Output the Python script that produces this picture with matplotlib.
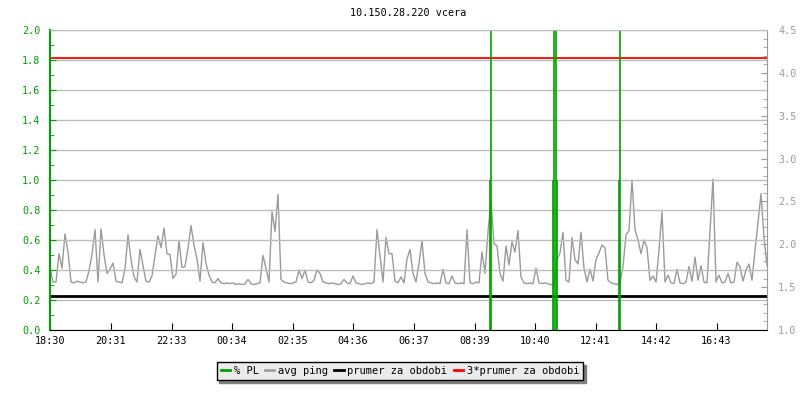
import matplotlib
matplotlib.use("Agg")
import matplotlib.pyplot as plt
from matplotlib.ticker import MultipleLocator

title = "10.150.28.220 vcera"

# time axis labels (minutes counted from 18:30)
xtick_labels = ["18:30", "20:31", "22:33", "00:34", "02:35", "04:36",
                "06:37", "08:39", "10:40", "12:41", "14:42", "16:43"]
x_end = 1434  # minutes after 18:30 shown at the right edge
step = 6      # minutes between ping samples

# avg ping [ms], one value every 6 minutes from 18:30
ping = [
    1.72, 1.56, 1.56, 1.89, 1.72, 2.12, 1.91, 1.56, 1.55, 1.57, 1.56, 1.55, 1.56, 1.69, 1.88, 2.17, 1.56, 2.18, 1.88, 1.66,
    1.71, 1.78, 1.57, 1.56, 1.55, 1.71, 2.11, 1.82, 1.62, 1.56, 1.94, 1.75, 1.57, 1.56, 1.63, 1.87, 2.10, 1.96, 2.19, 1.89,
    1.88, 1.60, 1.65, 2.04, 1.73, 1.74, 1.95, 2.22, 1.99, 1.83, 1.57, 2.02, 1.78, 1.64, 1.56, 1.55, 1.60, 1.55, 1.54, 1.55,
    1.54, 1.55, 1.53, 1.54, 1.53, 1.54, 1.59, 1.54, 1.53, 1.54, 1.55, 1.87, 1.72, 1.56, 2.38, 2.15, 2.58, 1.59, 1.56, 1.55,
    1.54, 1.55, 1.56, 1.70, 1.60, 1.70, 1.56, 1.55, 1.58, 1.70, 1.66, 1.56, 1.55, 1.54, 1.55, 1.54, 1.53, 1.54, 1.59, 1.55,
    1.54, 1.63, 1.55, 1.54, 1.53, 1.54, 1.55, 1.54, 1.56, 2.17, 1.87, 1.56, 2.08, 1.89, 1.89, 1.57, 1.55, 1.62, 1.55, 1.83,
    1.94, 1.66, 1.56, 1.78, 2.04, 1.66, 1.56, 1.55, 1.54, 1.55, 1.54, 1.71, 1.55, 1.54, 1.63, 1.55, 1.54, 1.55, 1.54, 2.17,
    1.55, 1.54, 1.56, 1.55, 1.91, 1.66, 2.15, 2.50, 2.01, 1.98, 1.66, 1.57, 1.98, 1.76, 2.03, 1.91, 2.16, 1.62, 1.55, 1.54,
    1.55, 1.54, 1.72, 1.55, 1.54, 1.55, 1.54, 1.53, 1.52, 1.82, 1.90, 2.14, 1.58, 1.56, 2.08, 1.82, 1.77, 2.14, 1.72, 1.56,
    1.71, 1.57, 1.82, 1.90, 1.99, 1.96, 1.58, 1.55, 1.54, 1.53, 1.55, 1.74, 2.11, 2.16, 2.75, 2.17, 2.05, 1.89, 2.05, 1.96,
    1.58, 1.63, 1.56, 1.93, 2.38, 1.56, 1.64, 1.55, 1.54, 1.71, 1.55, 1.54, 1.56, 1.74, 1.57, 1.85, 1.58, 1.75, 1.56, 1.55,
    2.16, 2.76, 1.56, 1.64, 1.55, 1.56, 1.66, 1.55, 1.56, 1.79, 1.74, 1.57, 1.70, 1.77, 1.58, 1.93, 2.25, 2.59, 2.08, 1.75,
]

# packet loss events (minutes after 18:30, % PL)
pl_times = [880, 882, 1006, 1008, 1012, 1014, 1138, 1140]
pl_values = [1.0, 100, 1.0, 100, 100, 1.0, 1.0, 100]

prumer = 1.392  # average ping over the period

GREEN = "#00a000"
GRAY = "#9a9a9a"


def to_minutes(label):
    h, m = map(int, label.split(":"))
    return ((h * 60 + m) - (18 * 60 + 30)) % 1440


def main():
    plt.rcParams["font.family"] = "DejaVu Sans Mono"
    plt.rcParams["font.size"] = 7.3

    fig = plt.figure(figsize=(8, 4), dpi=100)
    ax_ping = fig.add_axes([50 / 800, 70 / 400, 717 / 800, 300 / 400])
    ax_pl = ax_ping.twinx()
    ax_pl.patch.set_visible(False)

    ping_t = [i * step for i in range(len(ping))]
    ax_ping.plot(ping_t, ping, color=GRAY, lw=1, label="avg ping")
    ax_ping.axhline(prumer, color="black", lw=2, label="prumer za obdobi")
    ax_ping.axhline(3 * prumer, color="red", lw=1.3, label="3*prumer za obdobi")
    ax_ping.set_ylim(1.0, 4.5)

    ax_pl.vlines(pl_times, 0, pl_values, color=GREEN, lw=1.2, label="% PL")
    ax_pl.set_ylim(0, 2.0)
    ax_pl.set_xlim(0, x_end)

    # axes layout: PL on the left, ping on the right
    ax_pl.yaxis.tick_left()
    ax_ping.yaxis.tick_right()
    ax_pl.yaxis.set_major_locator(MultipleLocator(0.2))
    ax_pl.yaxis.set_minor_locator(MultipleLocator(0.1))
    ax_pl.yaxis.set_major_formatter(plt.FormatStrFormatter("%.1f"))
    ax_pl.tick_params(axis="y", which="both", direction="in", colors=GREEN, pad=7)
    ax_pl.tick_params(axis="y", which="major", length=4)
    ax_pl.tick_params(axis="y", which="minor", length=3)
    ax_pl.grid(True, axis="y", color="#bdbdbd", lw=1)
    ax_pl.set_axisbelow(True)

    ax_ping.yaxis.set_major_locator(MultipleLocator(0.5))
    ax_ping.yaxis.set_minor_locator(MultipleLocator(0.1))
    ax_ping.yaxis.set_major_formatter(plt.FormatStrFormatter("%.1f"))
    ax_ping.tick_params(axis="y", which="both", direction="in", colors=GRAY, pad=8)
    ax_ping.tick_params(axis="y", which="major", length=4)
    ax_ping.tick_params(axis="y", which="minor", length=3)

    ax_ping.set_xticks([to_minutes(l) for l in xtick_labels])
    ax_ping.set_xticklabels(xtick_labels)
    ax_ping.tick_params(axis="x", direction="in", length=5, pad=4, colors="black")
    ax_pl.tick_params(axis="x", bottom=False, labelbottom=False)

    for s in ax_ping.spines.values():
        s.set_visible(False)
    ax_pl.spines["left"].set_color(GREEN)
    ax_pl.spines["left"].set_linewidth(1.5)
    ax_pl.spines["right"].set_color(GRAY)
    ax_pl.spines["bottom"].set_color("black")
    ax_pl.spines["top"].set_color("#bdbdbd")

    fig.text((50 + 767) / 2 / 800, 1 - 13 / 400, title, ha="center", va="center", fontsize=7.3)

    labels = ["% PL", "avg ping", "prumer za obdobi", "3*prumer za obdobi"]
    handles = [plt.Line2D([], [], color=c, lw=2) for c in [GREEN, "#a0a0a0", "black", "red"]]
    leg = fig.legend(handles, labels, loc="center", bbox_to_anchor=(0.5, 1 - 371 / 400),
                     ncol=4, handlelength=0.9, handletextpad=0.35, columnspacing=0.6,
                     fancybox=False, facecolor="#ebebeb", edgecolor="black", framealpha=1,
                     shadow={"color": "#808080", "alpha": 1}, borderpad=0.4, fontsize=7.5)
    leg.get_frame().set_linewidth(1)

    fig.savefig("out.png", dpi=100)


if __name__ == "__main__":
    main()
